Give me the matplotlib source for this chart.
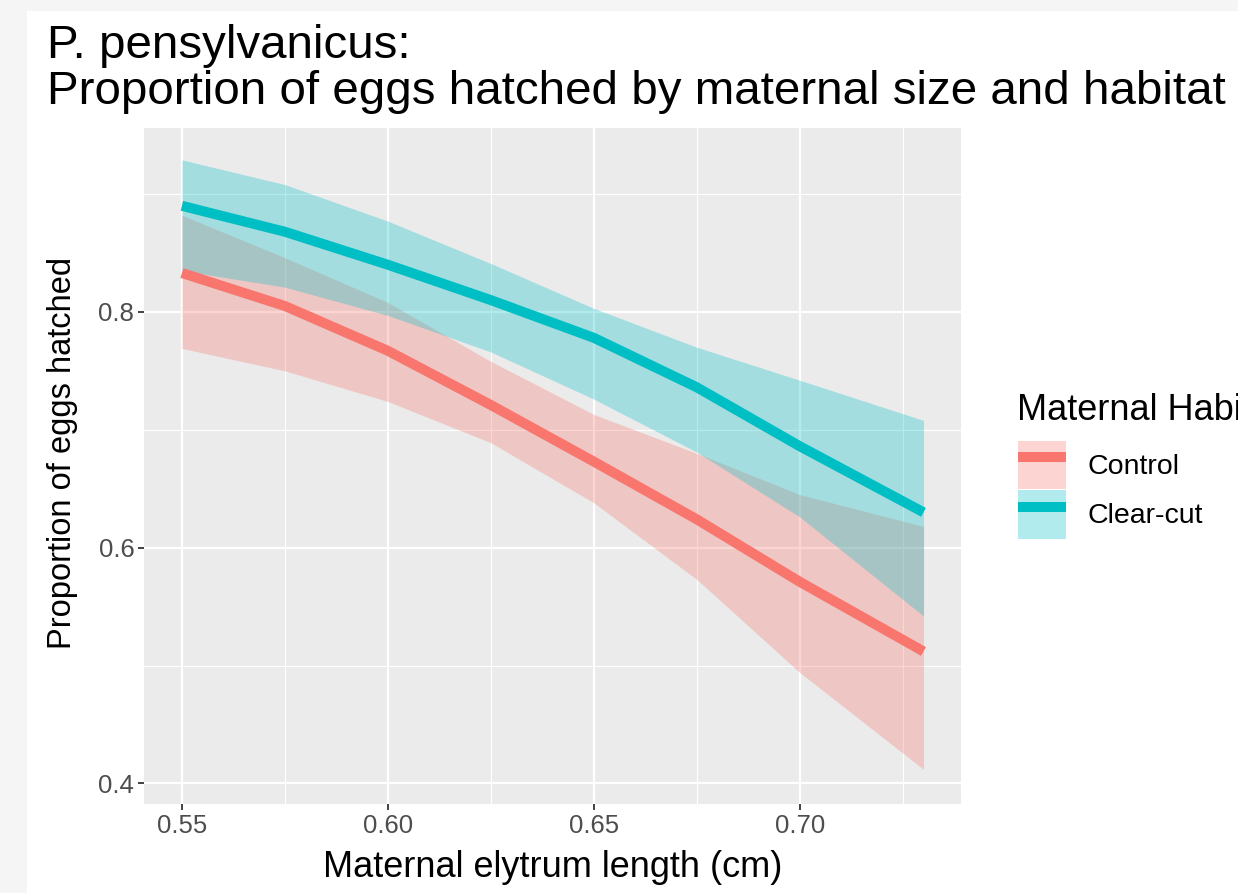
import matplotlib
matplotlib.use("Agg")
import matplotlib.pyplot as plt
from matplotlib.patches import Patch, Rectangle
from matplotlib.lines import Line2D
from matplotlib.ticker import MultipleLocator

plt.rcParams["font.family"] = ["Liberation Sans", "DejaVu Sans"]

# valores
elytrum = [0.55, 0.575, 0.60, 0.625, 0.65, 0.675, 0.70, 0.73]

control_fit = [0.833, 0.805, 0.767, 0.721, 0.673, 0.624, 0.571, 0.512]
control_lo = [0.769, 0.750, 0.724, 0.689, 0.638, 0.573, 0.494, 0.412]
control_hi = [0.882, 0.846, 0.808, 0.758, 0.713, 0.680, 0.645, 0.618]

clear_fit = [0.890, 0.868, 0.840, 0.810, 0.778, 0.736, 0.686, 0.630]
clear_lo = [0.835, 0.821, 0.797, 0.766, 0.726, 0.681, 0.626, 0.542]
clear_hi = [0.929, 0.908, 0.877, 0.841, 0.803, 0.770, 0.742, 0.708]

habitats = ["Control", "Clear-cut"]
cores = ["#F8766D", "#00BFC4"]

W, H = 1238, 893
fig = plt.figure(figsize=(W / 100, H / 100), dpi=100, facecolor="#F5F5F5")
# fundo branco do slide
fig.patches.append(Rectangle((27 / W, 0), 1, 1 - 11 / H, transform=fig.transFigure,
                             facecolor="white", edgecolor="none", zorder=-5))

ax = fig.add_axes([144 / W, 1 - 804 / H, (961 - 144) / W, (804 - 128) / H], zorder=2)
ax.set_facecolor("#EBEBEB")
for s in ax.spines.values():
    s.set_visible(False)

# ribbons primeiro, depois as linhas (como no ggplot)
series = [(control_lo, control_hi, control_fit), (clear_lo, clear_hi, clear_fit)]
for (lo, hi, fit), cor in zip(series, cores):
    ax.fill_between(elytrum, lo, hi, color=cor, alpha=0.3, linewidth=0, zorder=2)
for (lo, hi, fit), cor in zip(series, cores):
    ax.plot(elytrum, fit, color=cor, lw=7.2, solid_capstyle="butt", zorder=3)

ax.set_xlim(0.5408, 0.7391)
ax.set_ylim(0.3826, 0.956)
ax.xaxis.set_minor_locator(MultipleLocator(0.025))
ax.yaxis.set_minor_locator(MultipleLocator(0.1))
ax.set_xticks([0.55, 0.60, 0.65, 0.70])
ax.set_xticklabels(["0.55", "0.60", "0.65", "0.70"])
ax.set_yticks([0.4, 0.6, 0.8])
ax.set_yticklabels(["0.4", "0.6", "0.8"])
ax.grid(which="major", color="white", lw=1.6, zorder=1)
ax.grid(which="minor", color="white", lw=0.8, zorder=1)
ax.set_axisbelow(True)
ax.tick_params(which="major", length=4, width=1.3, color="#333333",
               labelsize=18.5, labelcolor="#4D4D4D", pad=3)
ax.tick_params(which="minor", length=0)

ax.set_xlabel("Maternal elytrum length (cm)", fontsize=26, labelpad=9)
ax.set_ylabel("Proportion of eggs hatched", fontsize=23.5)
ax.yaxis.set_label_coords(-0.081, 0.52)

fig.text(47 / W, 1 - 24 / H, "P. pensylvanicus:\nProportion of eggs hatched by maternal size and habitat",
         fontsize=34.2, va="top", ha="left", linespacing=1.07)

# legenda: titulo separado para controlar o espaco ate as chaves
fig.text(1017 / W, 1 - 410 / H, "Maternal Habitat", fontsize=26, va="center", ha="left")
handles = [(Patch(facecolor=c, alpha=0.3, edgecolor="none"),
            Line2D([], [], color=c, lw=7.2, solid_capstyle="butt")) for c in cores]
leg = fig.legend(handles, habitats, loc="upper left",
                 bbox_to_anchor=(1018 / W, 1 - 441 / H), frameon=False,
                 fontsize=20.5, handlelength=1.69, handleheight=2.22,
                 handletextpad=0.75, labelspacing=0.05,
                 borderaxespad=0, borderpad=0)

fig.savefig("out.png", dpi=100, facecolor=fig.get_facecolor())
